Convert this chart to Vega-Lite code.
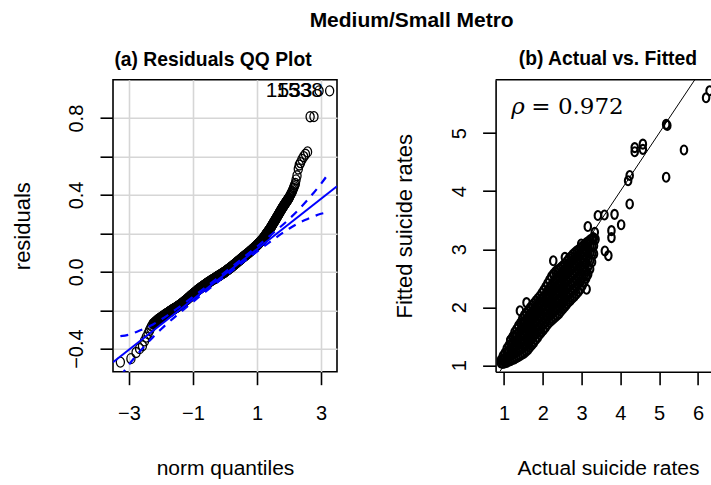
{
  "$schema": "https://vega.github.io/schema/vega-lite/v6.json",
  "background": "white",
  "padding": {"left": 10, "top": 9.7, "right": 0, "bottom": 0},
  "autosize": {"type": "pad"},
  "title": {"text": "Medium/Small Metro", "font": "Liberation Sans", "fontSize": 21, "fontWeight": "bold", "color": "black", "anchor": "middle", "baseline": "alphabetic", "offset": 2, "dx": 50},
  "spacing": 158.6,
  "bounds": "flush",
  "datasets": {
    "qq": [
      {"q":-3.27,"r":-0.470},{"q":-2.94,"r":-0.452},{"q":-2.78,"r":-0.420},{"q":-2.67,"r":-0.400},{"q":-2.58,"r":-0.385},{"q":-2.515,"r":-0.360},{"q":-2.46,"r":-0.340},{"q":-2.405,"r":-0.322},{"q":-2.36,"r":-0.305},{"q":-2.32,"r":-0.292},{"q":-2.29,"r":-0.283},{"q":-2.25,"r":-0.272},
      {"q":-2.235,"r":-0.270},{"q":-2.22,"r":-0.268},{"q":-2.205,"r":-0.266},{"q":-2.19,"r":-0.263},{"q":-2.175,"r":-0.261},{"q":-2.16,"r":-0.259},{"q":-2.145,"r":-0.257},{"q":-2.13,"r":-0.254},{"q":-2.115,"r":-0.252},{"q":-2.10,"r":-0.250},{"q":-2.085,"r":-0.248},{"q":-2.07,"r":-0.246},{"q":-2.055,"r":-0.245},{"q":-2.04,"r":-0.243},{"q":-2.025,"r":-0.241},{"q":-2.01,"r":-0.239},{"q":-1.995,"r":-0.238},{"q":-1.98,"r":-0.236},{"q":-1.965,"r":-0.234},{"q":-1.95,"r":-0.232},{"q":-1.935,"r":-0.231},{"q":-1.92,"r":-0.229},{"q":-1.905,"r":-0.227},{"q":-1.89,"r":-0.225},{"q":-1.875,"r":-0.224},{"q":-1.86,"r":-0.222},{"q":-1.845,"r":-0.220},{"q":-1.83,"r":-0.218},{"q":-1.815,"r":-0.217},{"q":-1.80,"r":-0.215},{"q":-1.785,"r":-0.214},{"q":-1.77,"r":-0.212},{"q":-1.755,"r":-0.210},{"q":-1.74,"r":-0.208},{"q":-1.725,"r":-0.207},{"q":-1.71,"r":-0.205},{"q":-1.695,"r":-0.204},{"q":-1.68,"r":-0.202},{"q":-1.665,"r":-0.200},{"q":-1.65,"r":-0.198},{"q":-1.635,"r":-0.197},{"q":-1.62,"r":-0.195},{"q":-1.605,"r":-0.194},{"q":-1.59,"r":-0.192},{"q":-1.575,"r":-0.191},{"q":-1.56,"r":-0.189},{"q":-1.545,"r":-0.188},{"q":-1.53,"r":-0.186},{"q":-1.515,"r":-0.185},{"q":-1.50,"r":-0.183},{"q":-1.485,"r":-0.181},{"q":-1.47,"r":-0.179},{"q":-1.455,"r":-0.178},{"q":-1.44,"r":-0.176},{"q":-1.425,"r":-0.175},{"q":-1.41,"r":-0.173},{"q":-1.395,"r":-0.171},{"q":-1.38,"r":-0.169},{"q":-1.365,"r":-0.167},{"q":-1.35,"r":-0.165},{"q":-1.335,"r":-0.163},{"q":-1.32,"r":-0.161},{"q":-1.305,"r":-0.159},{"q":-1.29,"r":-0.157},{"q":-1.275,"r":-0.155},{"q":-1.26,"r":-0.153},{"q":-1.245,"r":-0.151},{"q":-1.23,"r":-0.149},{"q":-1.215,"r":-0.147},{"q":-1.20,"r":-0.145},{"q":-1.185,"r":-0.143},{"q":-1.17,"r":-0.140},{"q":-1.155,"r":-0.138},{"q":-1.14,"r":-0.136},{"q":-1.125,"r":-0.134},{"q":-1.11,"r":-0.131},{"q":-1.095,"r":-0.129},{"q":-1.08,"r":-0.127},{"q":-1.065,"r":-0.125},{"q":-1.05,"r":-0.122},{"q":-1.035,"r":-0.120},{"q":-1.02,"r":-0.118},{"q":-1.005,"r":-0.116},{"q":-0.99,"r":-0.114},{"q":-0.975,"r":-0.112},{"q":-0.96,"r":-0.110},{"q":-0.945,"r":-0.108},{"q":-0.93,"r":-0.106},{"q":-0.915,"r":-0.104},{"q":-0.90,"r":-0.102},{"q":-0.885,"r":-0.100},{"q":-0.87,"r":-0.097},{"q":-0.855,"r":-0.095},{"q":-0.84,"r":-0.093},{"q":-0.825,"r":-0.091},{"q":-0.81,"r":-0.089},{"q":-0.795,"r":-0.088},{"q":-0.78,"r":-0.086},{"q":-0.765,"r":-0.084},{"q":-0.75,"r":-0.082},{"q":-0.735,"r":-0.080},{"q":-0.72,"r":-0.078},{"q":-0.705,"r":-0.077},{"q":-0.69,"r":-0.075},{"q":-0.675,"r":-0.073},{"q":-0.66,"r":-0.071},{"q":-0.645,"r":-0.070},{"q":-0.63,"r":-0.068},{"q":-0.615,"r":-0.066},{"q":-0.60,"r":-0.064},{"q":-0.585,"r":-0.063},{"q":-0.57,"r":-0.061},{"q":-0.555,"r":-0.059},{"q":-0.54,"r":-0.057},{"q":-0.525,"r":-0.056},{"q":-0.51,"r":-0.054},{"q":-0.495,"r":-0.053},{"q":-0.48,"r":-0.051},{"q":-0.465,"r":-0.049},{"q":-0.45,"r":-0.047},{"q":-0.435,"r":-0.046},{"q":-0.42,"r":-0.044},{"q":-0.405,"r":-0.043},{"q":-0.39,"r":-0.041},{"q":-0.375,"r":-0.040},{"q":-0.36,"r":-0.038},{"q":-0.345,"r":-0.037},{"q":-0.33,"r":-0.035},{"q":-0.315,"r":-0.034},{"q":-0.30,"r":-0.032},{"q":-0.285,"r":-0.030},{"q":-0.27,"r":-0.028},{"q":-0.255,"r":-0.027},{"q":-0.24,"r":-0.025},{"q":-0.225,"r":-0.024},{"q":-0.21,"r":-0.022},{"q":-0.195,"r":-0.021},{"q":-0.18,"r":-0.019},{"q":-0.165,"r":-0.018},{"q":-0.15,"r":-0.016},{"q":-0.135,"r":-0.015},{"q":-0.12,"r":-0.013},{"q":-0.105,"r":-0.011},{"q":-0.09,"r":-0.009},{"q":-0.075,"r":-0.008},{"q":-0.06,"r":-0.006},{"q":-0.045,"r":-0.005},{"q":-0.03,"r":-0.003},{"q":-0.015,"r":-0.002},{"q":0.00,"r":0.000},{"q":0.015,"r":0.002},{"q":0.03,"r":0.004},{"q":0.045,"r":0.006},{"q":0.06,"r":0.008},{"q":0.075,"r":0.010},{"q":0.09,"r":0.011},{"q":0.105,"r":0.013},{"q":0.12,"r":0.015},{"q":0.135,"r":0.017},{"q":0.15,"r":0.019},{"q":0.165,"r":0.021},{"q":0.18,"r":0.023},{"q":0.195,"r":0.025},{"q":0.21,"r":0.026},{"q":0.225,"r":0.029},{"q":0.24,"r":0.031},{"q":0.255,"r":0.033},{"q":0.27,"r":0.035},{"q":0.285,"r":0.037},{"q":0.30,"r":0.039},{"q":0.315,"r":0.041},{"q":0.33,"r":0.043},{"q":0.345,"r":0.045},{"q":0.36,"r":0.047},{"q":0.375,"r":0.050},{"q":0.39,"r":0.052},{"q":0.405,"r":0.054},{"q":0.42,"r":0.056},{"q":0.435,"r":0.058},{"q":0.45,"r":0.060},{"q":0.465,"r":0.062},{"q":0.48,"r":0.064},{"q":0.495,"r":0.066},{"q":0.51,"r":0.068},{"q":0.525,"r":0.071},{"q":0.54,"r":0.073},{"q":0.555,"r":0.075},{"q":0.57,"r":0.077},{"q":0.585,"r":0.079},{"q":0.60,"r":0.081},{"q":0.615,"r":0.083},{"q":0.63,"r":0.085},{"q":0.645,"r":0.087},{"q":0.66,"r":0.089},{"q":0.675,"r":0.091},{"q":0.69,"r":0.093},{"q":0.705,"r":0.095},{"q":0.72,"r":0.097},{"q":0.735,"r":0.099},{"q":0.75,"r":0.101},{"q":0.765,"r":0.103},{"q":0.78,"r":0.105},{"q":0.795,"r":0.108},{"q":0.81,"r":0.110},{"q":0.825,"r":0.112},{"q":0.84,"r":0.114},{"q":0.855,"r":0.117},{"q":0.87,"r":0.119},{"q":0.885,"r":0.121},{"q":0.90,"r":0.123},{"q":0.915,"r":0.126},{"q":0.93,"r":0.128},{"q":0.945,"r":0.130},{"q":0.96,"r":0.132},{"q":0.975,"r":0.135},{"q":0.99,"r":0.137},{"q":1.005,"r":0.140},{"q":1.02,"r":0.142},{"q":1.035,"r":0.145},{"q":1.05,"r":0.147},{"q":1.065,"r":0.150},{"q":1.08,"r":0.153},{"q":1.095,"r":0.156},{"q":1.11,"r":0.158},{"q":1.125,"r":0.161},{"q":1.14,"r":0.164},{"q":1.155,"r":0.167},{"q":1.17,"r":0.169},{"q":1.185,"r":0.172},{"q":1.20,"r":0.175},
      {"q":1.21,"r":0.178},{"q":1.22,"r":0.180},{"q":1.23,"r":0.182},{"q":1.24,"r":0.184},{"q":1.25,"r":0.187},{"q":1.26,"r":0.189},{"q":1.27,"r":0.192},{"q":1.28,"r":0.194},{"q":1.29,"r":0.197},{"q":1.30,"r":0.199},{"q":1.31,"r":0.201},{"q":1.32,"r":0.203},{"q":1.33,"r":0.206},{"q":1.34,"r":0.208},{"q":1.35,"r":0.211},{"q":1.36,"r":0.213},{"q":1.37,"r":0.215},{"q":1.38,"r":0.217},{"q":1.39,"r":0.220},{"q":1.40,"r":0.222},{"q":1.41,"r":0.225},{"q":1.42,"r":0.228},{"q":1.43,"r":0.231},{"q":1.44,"r":0.233},{"q":1.45,"r":0.236},{"q":1.46,"r":0.239},{"q":1.47,"r":0.242},{"q":1.48,"r":0.244},{"q":1.49,"r":0.247},{"q":1.50,"r":0.250},{"q":1.51,"r":0.253},{"q":1.52,"r":0.256},{"q":1.53,"r":0.259},{"q":1.54,"r":0.261},{"q":1.55,"r":0.264},{"q":1.56,"r":0.267},{"q":1.57,"r":0.270},{"q":1.58,"r":0.272},{"q":1.59,"r":0.275},{"q":1.60,"r":0.278},{"q":1.61,"r":0.281},{"q":1.62,"r":0.284},{"q":1.63,"r":0.287},{"q":1.64,"r":0.289},{"q":1.65,"r":0.292},{"q":1.66,"r":0.295},{"q":1.67,"r":0.298},{"q":1.68,"r":0.301},{"q":1.69,"r":0.304},{"q":1.70,"r":0.307},{"q":1.71,"r":0.310},{"q":1.72,"r":0.312},{"q":1.73,"r":0.315},{"q":1.74,"r":0.318},{"q":1.75,"r":0.321},{"q":1.76,"r":0.324},{"q":1.77,"r":0.327},{"q":1.78,"r":0.329},{"q":1.79,"r":0.332},{"q":1.80,"r":0.335},{"q":1.81,"r":0.338},{"q":1.82,"r":0.340},{"q":1.83,"r":0.343},{"q":1.84,"r":0.345},{"q":1.85,"r":0.348},{"q":1.86,"r":0.350},{"q":1.87,"r":0.353},{"q":1.88,"r":0.355},{"q":1.89,"r":0.358},{"q":1.90,"r":0.360},{"q":1.91,"r":0.363},{"q":1.92,"r":0.365},{"q":1.93,"r":0.368},{"q":1.94,"r":0.370},{"q":1.95,"r":0.373},{"q":1.96,"r":0.375},{"q":1.97,"r":0.378},{"q":1.98,"r":0.380},{"q":1.99,"r":0.383},{"q":2.00,"r":0.385},{"q":2.02,"r":0.392},{"q":2.04,"r":0.398},{"q":2.06,"r":0.405},{"q":2.08,"r":0.411},{"q":2.10,"r":0.418},{"q":2.12,"r":0.426},{"q":2.14,"r":0.435},{"q":2.16,"r":0.443},{"q":2.18,"r":0.452},{"q":2.20,"r":0.460},
      {"q":2.22,"r":0.478},{"q":2.25,"r":0.500},{"q":2.29,"r":0.535},{"q":2.32,"r":0.556},{"q":2.36,"r":0.568},{"q":2.405,"r":0.585},{"q":2.46,"r":0.600},{"q":2.515,"r":0.612},{"q":2.58,"r":0.624},{"q":2.66,"r":0.807},{"q":2.78,"r":0.808},{"q":2.94,"r":0.942,"id":"1533"},{"q":3.27,"r":0.942,"id":"1538"}
    ],
    "qqline": [{"q":-3.5,"r":-0.4703},{"q":3.5,"r":0.4453}],
    "env": [
      {"q":-3.27,"hi":-0.335,"lo":-0.545},{"q":-3.0,"hi":-0.327,"lo":-0.483},{"q":-2.75,"hi":-0.312,"lo":-0.432},{"q":-2.5,"hi":-0.2945,"lo":-0.3845},{"q":-2.25,"hi":-0.274,"lo":-0.340},{"q":-2.0,"hi":-0.249,"lo":-0.299},{"q":-1.5,"hi":-0.1917,"lo":-0.2257},{"q":-1.0,"hi":-0.1303,"lo":-0.1563},{"q":-0.5,"hi":-0.0669,"lo":-0.0889},{"q":0.0,"hi":-0.0015,"lo":-0.0235},{"q":0.5,"hi":0.0639,"lo":0.0419},{"q":1.0,"hi":0.1313,"lo":0.1053},{"q":1.5,"hi":0.2007,"lo":0.1667},{"q":2.0,"hi":0.2741,"lo":0.2241},{"q":2.25,"hi":0.3148,"lo":0.2488},{"q":2.5,"hi":0.3595,"lo":0.2695},{"q":2.75,"hi":0.4072,"lo":0.2872},{"q":3.0,"hi":0.4579,"lo":0.3019},{"q":3.27,"hi":0.5202,"lo":0.3102}
    ],
    "fit": [
      {"a":0.92,"f":1.04},{"a":0.92,"f":1.09},
      {"a":0.97,"f":1.03},{"a":0.97,"f":1.10},{"a":0.97,"f":1.16},
      {"a":1.02,"f":1.04},{"a":1.02,"f":1.12},{"a":1.02,"f":1.21},
      {"a":1.07,"f":1.05},{"a":1.07,"f":1.13},{"a":1.07,"f":1.21},{"a":1.07,"f":1.29},
      {"a":1.12,"f":1.07},{"a":1.12,"f":1.16},{"a":1.12,"f":1.25},{"a":1.12,"f":1.34},
      {"a":1.17,"f":1.08},{"a":1.17,"f":1.17},{"a":1.17,"f":1.26},{"a":1.17,"f":1.35},{"a":1.17,"f":1.43},
      {"a":1.22,"f":1.10},{"a":1.22,"f":1.20},{"a":1.22,"f":1.30},{"a":1.22,"f":1.40},{"a":1.22,"f":1.49},
      {"a":1.27,"f":1.11},{"a":1.27,"f":1.21},{"a":1.27,"f":1.31},{"a":1.27,"f":1.41},{"a":1.27,"f":1.50},{"a":1.27,"f":1.57},
      {"a":1.32,"f":1.13},{"a":1.32,"f":1.23},{"a":1.32,"f":1.33},{"a":1.32,"f":1.43},{"a":1.32,"f":1.53},{"a":1.32,"f":1.62},
      {"a":1.37,"f":1.15},{"a":1.37,"f":1.25},{"a":1.37,"f":1.36},{"a":1.37,"f":1.46},{"a":1.37,"f":1.57},{"a":1.37,"f":1.68},
      {"a":1.42,"f":1.17},{"a":1.42,"f":1.27},{"a":1.42,"f":1.38},{"a":1.42,"f":1.49},{"a":1.42,"f":1.60},{"a":1.42,"f":1.73},
      {"a":1.47,"f":1.19},{"a":1.47,"f":1.30},{"a":1.47,"f":1.41},{"a":1.47,"f":1.52},{"a":1.47,"f":1.63},{"a":1.47,"f":1.72},{"a":1.47,"f":1.80},
      {"a":1.52,"f":1.21},{"a":1.52,"f":1.32},{"a":1.52,"f":1.43},{"a":1.52,"f":1.54},{"a":1.52,"f":1.65},{"a":1.52,"f":1.76},{"a":1.52,"f":1.86},
      {"a":1.57,"f":1.24},{"a":1.57,"f":1.35},{"a":1.57,"f":1.46},{"a":1.57,"f":1.57},{"a":1.57,"f":1.68},{"a":1.57,"f":1.79},{"a":1.57,"f":1.90},
      {"a":1.62,"f":1.27},{"a":1.62,"f":1.38},{"a":1.62,"f":1.49},{"a":1.62,"f":1.60},{"a":1.62,"f":1.71},{"a":1.62,"f":1.82},{"a":1.62,"f":1.94},
      {"a":1.67,"f":1.31},{"a":1.67,"f":1.42},{"a":1.67,"f":1.53},{"a":1.67,"f":1.64},{"a":1.67,"f":1.75},{"a":1.67,"f":1.86},{"a":1.67,"f":1.99},
      {"a":1.72,"f":1.35},{"a":1.72,"f":1.46},{"a":1.72,"f":1.57},{"a":1.72,"f":1.68},{"a":1.72,"f":1.79},{"a":1.72,"f":1.90},{"a":1.72,"f":2.03},
      {"a":1.77,"f":1.39},{"a":1.77,"f":1.50},{"a":1.77,"f":1.61},{"a":1.77,"f":1.72},{"a":1.77,"f":1.83},{"a":1.77,"f":1.95},{"a":1.77,"f":2.07},
      {"a":1.82,"f":1.44},{"a":1.82,"f":1.55},{"a":1.82,"f":1.66},{"a":1.82,"f":1.77},{"a":1.82,"f":1.88},{"a":1.82,"f":2.00},{"a":1.82,"f":2.11},
      {"a":1.87,"f":1.48},{"a":1.87,"f":1.59},{"a":1.87,"f":1.70},{"a":1.87,"f":1.81},{"a":1.87,"f":1.92},{"a":1.87,"f":2.04},{"a":1.87,"f":2.15},
      {"a":1.92,"f":1.53},{"a":1.92,"f":1.64},{"a":1.92,"f":1.75},{"a":1.92,"f":1.86},{"a":1.92,"f":1.97},{"a":1.92,"f":2.08},{"a":1.92,"f":2.19},
      {"a":1.97,"f":1.57},{"a":1.97,"f":1.68},{"a":1.97,"f":1.79},{"a":1.97,"f":1.90},{"a":1.97,"f":2.01},{"a":1.97,"f":2.13},{"a":1.97,"f":2.24},
      {"a":2.02,"f":1.61},{"a":2.02,"f":1.72},{"a":2.02,"f":1.83},{"a":2.02,"f":1.94},{"a":2.02,"f":2.05},{"a":2.02,"f":2.17},{"a":2.02,"f":2.29},
      {"a":2.07,"f":1.65},{"a":2.07,"f":1.76},{"a":2.07,"f":1.87},{"a":2.07,"f":1.98},{"a":2.07,"f":2.10},{"a":2.07,"f":2.22},{"a":2.07,"f":2.35},
      {"a":2.12,"f":1.70},{"a":2.12,"f":1.81},{"a":2.12,"f":1.92},{"a":2.12,"f":2.03},{"a":2.12,"f":2.15},{"a":2.12,"f":2.28},{"a":2.12,"f":2.41},
      {"a":2.17,"f":1.74},{"a":2.17,"f":1.85},{"a":2.17,"f":1.96},{"a":2.17,"f":2.08},{"a":2.17,"f":2.20},{"a":2.17,"f":2.33},{"a":2.17,"f":2.47},
      {"a":2.22,"f":1.77},{"a":2.22,"f":1.88},{"a":2.22,"f":2.00},{"a":2.22,"f":2.12},{"a":2.22,"f":2.25},{"a":2.22,"f":2.38},{"a":2.22,"f":2.53},
      {"a":2.27,"f":1.80},{"a":2.27,"f":1.92},{"a":2.27,"f":2.04},{"a":2.27,"f":2.17},{"a":2.27,"f":2.30},{"a":2.27,"f":2.43},{"a":2.27,"f":2.57},
      {"a":2.32,"f":1.83},{"a":2.32,"f":1.95},{"a":2.32,"f":2.08},{"a":2.32,"f":2.21},{"a":2.32,"f":2.34},{"a":2.32,"f":2.47},{"a":2.32,"f":2.61},
      {"a":2.37,"f":1.86},{"a":2.37,"f":1.99},{"a":2.37,"f":2.12},{"a":2.37,"f":2.25},{"a":2.37,"f":2.38},{"a":2.37,"f":2.51},{"a":2.37,"f":2.64},
      {"a":2.42,"f":1.89},{"a":2.42,"f":2.02},{"a":2.42,"f":2.15},{"a":2.42,"f":2.28},{"a":2.42,"f":2.41},{"a":2.42,"f":2.54},{"a":2.42,"f":2.66},
      {"a":2.47,"f":1.93},{"a":2.47,"f":2.06},{"a":2.47,"f":2.19},{"a":2.47,"f":2.32},{"a":2.47,"f":2.45},{"a":2.47,"f":2.58},{"a":2.47,"f":2.69},
      {"a":2.52,"f":1.97},{"a":2.52,"f":2.10},{"a":2.52,"f":2.23},{"a":2.52,"f":2.36},{"a":2.52,"f":2.49},{"a":2.52,"f":2.61},{"a":2.52,"f":2.72},
      {"a":2.57,"f":2.01},{"a":2.57,"f":2.14},{"a":2.57,"f":2.27},{"a":2.57,"f":2.40},{"a":2.57,"f":2.53},{"a":2.57,"f":2.65},{"a":2.57,"f":2.75},
      {"a":2.62,"f":2.05},{"a":2.62,"f":2.18},{"a":2.62,"f":2.31},{"a":2.62,"f":2.44},{"a":2.62,"f":2.57},{"a":2.62,"f":2.69},{"a":2.62,"f":2.79},
      {"a":2.67,"f":2.09},{"a":2.67,"f":2.22},{"a":2.67,"f":2.35},{"a":2.67,"f":2.48},{"a":2.67,"f":2.61},{"a":2.67,"f":2.73},{"a":2.67,"f":2.84},
      {"a":2.72,"f":2.12},{"a":2.72,"f":2.25},{"a":2.72,"f":2.38},{"a":2.72,"f":2.51},{"a":2.72,"f":2.64},{"a":2.72,"f":2.76},{"a":2.72,"f":2.87},
      {"a":2.77,"f":2.16},{"a":2.77,"f":2.29},{"a":2.77,"f":2.42},{"a":2.77,"f":2.55},{"a":2.77,"f":2.68},{"a":2.77,"f":2.80},{"a":2.77,"f":2.91},
      {"a":2.82,"f":2.19},{"a":2.82,"f":2.32},{"a":2.82,"f":2.45},{"a":2.82,"f":2.58},{"a":2.82,"f":2.71},{"a":2.82,"f":2.83},{"a":2.82,"f":2.94},
      {"a":2.87,"f":2.23},{"a":2.87,"f":2.36},{"a":2.87,"f":2.49},{"a":2.87,"f":2.62},{"a":2.87,"f":2.75},{"a":2.87,"f":2.87},{"a":2.87,"f":2.97},
      {"a":2.92,"f":2.27},{"a":2.92,"f":2.40},{"a":2.92,"f":2.53},{"a":2.92,"f":2.66},{"a":2.92,"f":2.79},{"a":2.92,"f":2.90},{"a":2.92,"f":2.99},
      {"a":2.97,"f":2.31},{"a":2.97,"f":2.44},{"a":2.97,"f":2.57},{"a":2.97,"f":2.70},{"a":2.97,"f":2.82},{"a":2.97,"f":2.93},{"a":2.97,"f":3.02},
      {"a":3.02,"f":2.37},{"a":3.02,"f":2.50},{"a":3.02,"f":2.63},{"a":3.02,"f":2.75},{"a":3.02,"f":2.86},{"a":3.02,"f":2.96},{"a":3.02,"f":3.05},
      {"a":3.07,"f":2.43},{"a":3.07,"f":2.56},{"a":3.07,"f":2.68},{"a":3.07,"f":2.80},{"a":3.07,"f":2.91},{"a":3.07,"f":3.00},{"a":3.07,"f":3.08},
      {"a":3.12,"f":2.50},{"a":3.12,"f":2.63},{"a":3.12,"f":2.75},{"a":3.12,"f":2.86},{"a":3.12,"f":2.96},{"a":3.12,"f":3.05},{"a":3.12,"f":3.11},
      {"a":3.17,"f":2.57},{"a":3.17,"f":2.70},{"a":3.17,"f":2.82},{"a":3.17,"f":2.93},{"a":3.17,"f":3.03},{"a":3.17,"f":3.13},
      {"a":3.22,"f":2.66},{"a":3.22,"f":2.80},{"a":3.22,"f":2.93},{"a":3.22,"f":3.05},{"a":3.22,"f":3.16},
      {"a":3.27,"f":2.78},{"a":3.27,"f":2.92},{"a":3.27,"f":3.05},{"a":3.27,"f":3.18},
      {"a":3.32,"f":2.92},{"a":3.32,"f":3.06},{"a":3.32,"f":3.19},
      {"a":6.21,"f":5.61},{"a":6.30,"f":5.73},{"a":5.18,"f":5.15},{"a":5.21,"f":5.13},{"a":5.64,"f":4.71},{"a":5.18,"f":4.24},{"a":4.37,"f":4.75},{"a":4.37,"f":4.68},{"a":4.58,"f":4.81},{"a":4.58,"f":4.72},{"a":4.24,"f":4.27},{"a":4.20,"f":4.18},{"a":4.24,"f":3.78},{"a":3.42,"f":3.58},{"a":3.59,"f":3.59},{"a":3.85,"f":3.60},{"a":4.02,"f":3.42},{"a":3.77,"f":3.32},{"a":3.77,"f":3.20},{"a":3.16,"f":3.39},{"a":3.30,"f":3.20},{"a":3.34,"f":3.29},{"a":3.36,"f":3.17},{"a":3.60,"f":2.97},{"a":3.69,"f":2.89},{"a":3.13,"f":2.54},{"a":3.13,"f":2.31},{"a":2.99,"f":3.09},{"a":2.27,"f":2.80},{"a":2.57,"f":2.86},{"a":1.58,"f":2.08},{"a":1.41,"f":1.94},{"a":1.93,"f":1.57},{"a":1.16,"f":1.43}
    ],
    "diag": [{"a":0.89,"f":0.89},{"a":5.92,"f":5.92}],
    "note": [{"sym":"ρ","txt":"= 0.972"}]
  },
  "hconcat": [
    {
      "width": 224,
      "height": 292,
      "title": {"text": "(a) Residuals QQ Plot", "font": "Liberation Sans", "fontSize": 19.3, "fontWeight": "bold", "color": "black", "anchor": "middle", "frame": "group", "baseline": "alphabetic", "offset": -5.8, "dx": -12},
      "layer": [
        {
          "data": {"name": "qq"},
          "mark": {"type": "point", "shape": "M0,-1A0.81,1,0,1,1,0,1A0.81,1,0,1,1,0,-1Z", "size": 100, "filled": false, "stroke": "black", "strokeWidth": 1.3, "opacity": 1, "clip": true},
          "encoding": {
            "x": {"field": "q", "type": "quantitative", "title": "norm quantiles",
              "scale": {"domain": [-3.5, 3.5], "nice": false, "zero": false},
              "axis": {"values": [-3, -2, -1, 0, 1, 2, 3], "labelExpr": "datum.value == -2 || datum.value == 0 ? '' : datum.label", "grid": true, "gridColor": "#d6d6d6", "gridWidth": 1.6, "labelPadding": 35, "labelBaseline": "alphabetic", "labelAlign": "center", "titleX": 112, "titleY": 103, "titleBaseline": "alphabetic", "titleAlign": "center", "titleFontSize": 21}},
            "y": {"field": "r", "type": "quantitative", "title": "residuals",
              "scale": {"domain": [-0.52, 1.0], "nice": false, "zero": false},
              "axis": {"values": [-0.4, -0.2, 0, 0.2, 0.4, 0.6, 0.8], "format": ".1f", "labelExpr": "(datum.value == -0.4 || datum.value == 0 || datum.value == 0.4 || datum.value == 0.8) ? datum.label : ''", "grid": true, "gridColor": "#d6d6d6", "gridWidth": 1.6, "labelAngle": -90, "labelAlign": "center", "labelBaseline": "alphabetic", "labelPadding": 17.7, "titleX": -84, "titleY": 146, "titleAngle": 270, "titleBaseline": "alphabetic", "titleAlign": "center", "titleFontSize": 22}}
          }
        },
        {
          "data": {"name": "qqline"},
          "mark": {"type": "line", "color": "#0000ff", "strokeWidth": 2, "clip": true},
          "encoding": {"x": {"field": "q", "type": "quantitative", "title": "norm quantiles"}, "y": {"field": "r", "type": "quantitative", "title": "residuals"}}
        },
        {
          "data": {"name": "env"},
          "mark": {"type": "line", "color": "#0000ff", "strokeWidth": 2.2, "strokeDash": [8, 7], "interpolate": "monotone", "clip": true},
          "encoding": {"x": {"field": "q", "type": "quantitative", "title": "norm quantiles"}, "y": {"field": "hi", "type": "quantitative", "title": "residuals"}}
        },
        {
          "data": {"name": "env"},
          "mark": {"type": "line", "color": "#0000ff", "strokeWidth": 2.2, "strokeDash": [8, 7], "interpolate": "monotone", "clip": true},
          "encoding": {"x": {"field": "q", "type": "quantitative", "title": "norm quantiles"}, "y": {"field": "lo", "type": "quantitative", "title": "residuals"}}
        },
        {
          "data": {"name": "qq"},
          "transform": [{"filter": "isValid(datum.id)"}],
          "mark": {"type": "text", "align": "right", "baseline": "middle", "dx": -6.6, "font": "Liberation Sans", "fontSize": 21, "color": "black"},
          "encoding": {"x": {"field": "q", "type": "quantitative", "title": "norm quantiles"}, "y": {"field": "r", "type": "quantitative", "title": "residuals"}, "text": {"field": "id"}}
        }
      ]
    },
    {
      "width": 216.7,
      "height": 292,
      "view": {"stroke": null},
      "title": {"text": "(b) Actual vs. Fitted", "font": "Liberation Sans", "fontSize": 19.3, "fontWeight": "bold", "color": "black", "anchor": "middle", "frame": "group", "baseline": "alphabetic", "offset": -5.8, "dx": 4},
      "layer": [
        {
          "data": {"name": "fit"},
          "mark": {"type": "point", "shape": "M0,-1A0.72,1,0,1,1,0,1A0.72,1,0,1,1,0,-1Z", "size": 81, "filled": false, "stroke": "black", "strokeWidth": 2.1, "opacity": 1, "clip": true},
          "encoding": {
            "x": {"field": "a", "type": "quantitative", "title": "Actual suicide rates",
              "scale": {"domain": [0.783, 6.37], "nice": false, "zero": false},
              "axis": {"values": [1, 2, 3, 4, 5, 6], "format": "d", "domain": true, "domainColor": "black", "domainWidth": 1.6, "labelPadding": 35, "labelBaseline": "alphabetic", "labelAlign": "center", "titleX": 112.4, "titleY": 103, "titleBaseline": "alphabetic", "titleAlign": "center", "titleFontSize": 21}},
            "y": {"field": "f", "type": "quantitative", "title": "Fitted suicide rates",
              "scale": {"domain": [0.89, 5.92], "nice": false, "zero": false},
              "axis": {"values": [1, 2, 3, 4, 5], "format": "d", "domain": true, "domainColor": "black", "domainWidth": 1.6, "labelAngle": -90, "labelAlign": "center", "labelBaseline": "alphabetic", "labelPadding": 16.6, "titleX": -84.3, "titleY": 146, "titleAngle": 270, "titleBaseline": "alphabetic", "titleAlign": "center", "titleFontSize": 22}}
          }
        },
        {
          "data": {"name": "diag"},
          "mark": {"type": "line", "color": "black", "strokeWidth": 1, "clip": true},
          "encoding": {"x": {"field": "a", "type": "quantitative", "title": "Actual suicide rates"}, "y": {"field": "f", "type": "quantitative", "title": "Fitted suicide rates"}}
        },
        {
          "data": {"name": "note"},
          "mark": {"type": "text", "font": "DejaVu Serif", "fontStyle": "italic", "fontSize": 23, "align": "left", "baseline": "alphabetic", "color": "black"},
          "encoding": {"x": {"datum": 1.189}, "y": {"datum": 5.327}, "text": {"field": "sym"}}
        },
        {
          "data": {"name": "note"},
          "mark": {"type": "text", "font": "DejaVu Serif", "fontSize": 23, "align": "left", "baseline": "alphabetic", "color": "black"},
          "encoding": {"x": {"datum": 1.704}, "y": {"datum": 5.327}, "text": {"field": "txt"}}
        },
        {
          "data": {"name": "note"},
          "mark": {"type": "rule", "color": "black", "strokeWidth": 1.6},
          "encoding": {"y": {"datum": 5.92}}
        }
      ]
    }
  ],
  "config": {
    "font": "Liberation Sans",
    "view": {"stroke": "black", "strokeWidth": 1.6},
    "axis": {"labelFont": "Liberation Sans", "labelFontSize": 20, "labelColor": "black", "titleFont": "Liberation Sans", "titleFontSize": 21, "titleFontWeight": "normal", "titleColor": "black", "tickColor": "black", "tickWidth": 1.6, "tickSize": 13, "domain": false, "grid": false, "labelOverlap": false, "labelFlush": false, "labelBound": false}
  }
}
